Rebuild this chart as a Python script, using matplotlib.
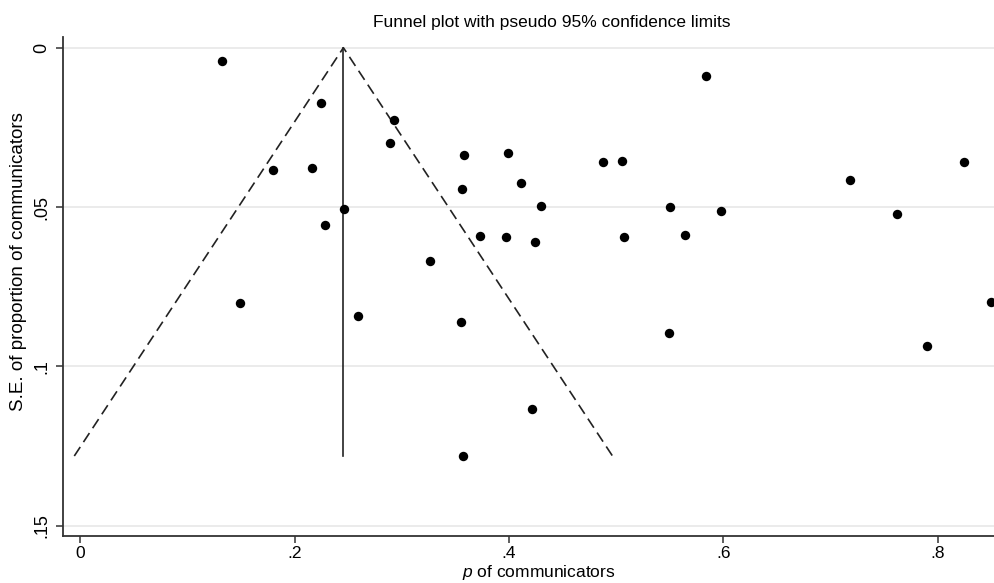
import matplotlib
matplotlib.use("Agg")
import matplotlib.pyplot as plt
import numpy as np

plt.rcParams['font.family'] = ['Liberation Sans', 'DejaVu Sans']
plt.rcParams['mathtext.fontset'] = 'custom'
plt.rcParams['mathtext.it'] = 'Liberation Sans:italic'
plt.rcParams['mathtext.rm'] = 'Liberation Sans'

# Data: proportion of communicators (p) and its standard error
p_values = [0.1327, 0.2245, 0.293, 0.289, 0.1797, 0.2167, 0.3582, 0.3993, 0.4876,
            0.5052, 0.5837, 0.825, 0.356, 0.4109, 0.7183, 0.4303, 0.550, 0.5978,
            0.7621, 0.2463, 0.2282, 0.3734, 0.3974, 0.4243, 0.507, 0.5639, 0.3264,
            0.1496, 0.2593, 0.355, 0.549, 0.790, 0.8497, 0.4211, 0.3575]
se_values = [0.0041, 0.0175, 0.0228, 0.0298, 0.0385, 0.0376, 0.0336, 0.0331, 0.0360,
             0.0354, 0.0089, 0.0358, 0.0442, 0.0425, 0.0415, 0.0497, 0.0499, 0.0511,
             0.0522, 0.0505, 0.0557, 0.0592, 0.0593, 0.0609, 0.0593, 0.0589, 0.0669,
             0.0800, 0.0843, 0.0861, 0.0894, 0.0936, 0.0799, 0.1134, 0.1281]
pooled_p = 0.2456
z95 = 1.96

x_ticks = [0, 0.2, 0.4, 0.6, 0.8]
x_tick_labels = ["0", ".2", ".4", ".6", ".8"]
y_ticks = [0, 0.05, 0.1, 0.15]
y_tick_labels = ["0", ".05", ".1", ".15"]

fig = plt.figure(figsize=(9.94, 5.83), dpi=100)
ax = fig.add_axes([63/994, 47.3/583, 1 - 63/994, (535.7 - 36.7)/583])

se_max = max(se_values)
for yt in y_ticks:
    ax.axhline(yt, color='#e8e8e8', lw=1.2, zorder=0)

# Funnel limits
ax.plot([pooled_p - z95 * se_max, pooled_p, pooled_p + z95 * se_max],
        [se_max, 0, se_max], color='#222222', lw=1.2, ls=(0, (6.5, 3.5)), zorder=2)
ax.plot([pooled_p, pooled_p], [0, se_max], color='#222222', lw=1.2, zorder=2)

ax.scatter(p_values, se_values, s=46, color='black', zorder=3, linewidths=0)

ax.set_xlim(-0.016, 0.8526)
ax.set_ylim(0.1531, -0.00345)

ax.set_xticks(x_ticks)
ax.set_xticklabels(x_tick_labels, fontsize=12.5)
ax.set_yticks(y_ticks)
ax.set_yticklabels(y_tick_labels, fontsize=13, rotation=90, va='center')

for s in ['top', 'right']:
    ax.spines[s].set_visible(False)
for s in ['left', 'bottom']:
    ax.spines[s].set_color('#333333')
    ax.spines[s].set_linewidth(1.3)
ax.tick_params(direction='out', length=5, width=1.1, color='#333333', pad=4)
ax.tick_params(axis='x', pad=2.5)

fig.text(539/994, 1 - 576.5/583, "$p$ of communicators", fontsize=12.5,
         ha='center', va='baseline')
fig.text(19/994, 1 - 262/583, "S.E. of proportion of communicators", fontsize=13.5,
         ha='center', va='center', rotation=90)
fig.text(552/994, 1 - 22/583, "Funnel plot with pseudo 95% confidence limits",
         ha='center', va='center', fontsize=12.5)

fig.savefig("out.png", dpi=100)
